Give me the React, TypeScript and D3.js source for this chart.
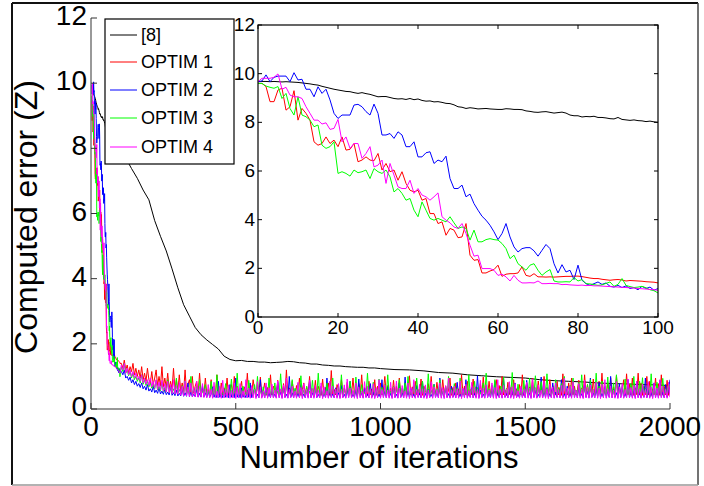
import React from "react";
import * as d3 from "d3";

// ---------- DATA ----------
const seriesNames = ["[8]", "OPTIM 1", "OPTIM 2", "OPTIM 3", "OPTIM 4"];
const seriesColors = ["#000000", "#ff0000", "#0000ff", "#00ff00", "#ff00ff"];

const mainXTicks = [0, 500, 1000, 1500, 2000];
const mainYTicks = [0, 2, 4, 6, 8, 10, 12];
const insetXTicks = [0, 20, 40, 60, 80, 100];
const insetYTicks = [0, 2, 4, 6, 8, 10, 12];

// iterations 0..100 (one value per iteration)
const ref8Early = [
  9.67, 9.68, 9.68, 9.67, 9.68, 9.67, 9.66, 9.67, 9.66, 9.65,
  9.64, 9.62, 9.6, 9.58, 9.55, 9.53, 9.48, 9.44, 9.4, 9.36,
  9.33, 9.3, 9.27, 9.26, 9.22, 9.19, 9.22, 9.18, 9.15, 9.1,
  9.05, 9.06, 9.06, 9.02, 8.98, 8.96, 8.97, 8.94, 8.98, 8.93,
  8.96, 8.9, 8.87, 8.88, 8.84, 8.85, 8.82, 8.78, 8.77, 8.72,
  8.64, 8.62, 8.57, 8.6, 8.58, 8.55, 8.56, 8.57, 8.55, 8.54,
  8.53, 8.53, 8.56, 8.55, 8.53, 8.53, 8.52, 8.47, 8.45, 8.42,
  8.41, 8.43, 8.44, 8.41, 8.38, 8.4, 8.42, 8.38, 8.3, 8.27,
  8.27, 8.22, 8.24, 8.23, 8.25, 8.2, 8.2, 8.18, 8.15, 8.14,
  8.2, 8.12, 8.1, 8.08, 8.1, 8.07, 8.06, 8.03, 8.05, 8.02,
  8.0,
];
const optim1Early = [
  9.6, 9.6, 9.47, 8.85, 8.85, 9.33, 9.4, 8.5, 8.64, 9.3,
  8.09, 8.57, 8.37, 8.09, 7.2, 7.06, 7.13, 7.4, 7.13, 7.27,
  7.0, 7.4, 6.86, 6.89, 7.13, 6.38, 6.45, 6.58, 6.45, 6.42,
  6.72, 6.04, 6.31, 5.97, 6.04, 5.62, 5.97, 5.49, 5.21, 5.14,
  5.21, 4.8, 4.87, 4.25, 4.25, 3.84, 3.91, 3.36, 3.64, 3.57,
  3.26, 3.29, 3.84, 2.54, 2.33, 2.36, 1.81, 1.81, 1.89, 1.95,
  2.13, 1.67, 1.76, 1.78, 1.78, 1.81, 2.06, 1.71, 1.67, 1.78,
  1.65, 1.65, 1.64, 1.65, 1.64, 1.65, 1.66, 1.67, 1.67, 1.68,
  1.68, 1.66, 1.63, 1.6, 1.58, 1.58, 1.55, 1.53, 1.51, 1.53,
  1.54, 1.52, 1.48, 1.5, 1.49, 1.48, 1.47, 1.45, 1.44, 1.43,
  1.4,
];
const optim2Early = [
  9.67, 9.7, 9.95, 9.67, 9.85, 9.9, 9.9, 9.9, 9.67, 10.04,
  9.74, 9.77, 9.36, 9.36, 9.05, 9.46, 9.19, 9.36, 8.92, 8.37,
  8.16, 8.3, 8.3, 8.3, 8.71, 8.74, 8.64, 8.44, 8.3, 8.75,
  8.37, 7.48, 7.48, 7.54, 7.34, 7.61, 7.48, 7.0, 7.0, 7.2,
  6.58, 6.58, 6.75, 6.79, 6.31, 6.45, 6.38, 6.61, 5.69, 5.28,
  5.28, 5.42, 4.94, 5.05, 4.66, 4.39, 4.14, 3.98, 3.77, 3.5,
  3.18, 3.43, 3.84, 3.29, 2.88, 2.67, 2.81, 2.85, 2.85, 2.72,
  2.5, 2.74, 2.98, 2.81, 2.19, 1.81, 2.15, 1.85, 1.92, 1.54,
  2.13, 1.51, 1.37, 1.3, 1.37, 1.44, 1.34, 1.4, 1.26, 1.23,
  1.3, 1.21, 1.28, 1.17, 1.21, 1.12, 1.26, 1.17, 1.23, 1.1,
  1.17,
];
const optim3Early = [
  9.6, 9.6, 9.49, 9.44, 9.4, 9.47, 8.98, 9.19, 8.57, 8.3,
  9.05, 8.3, 8.23, 8.09, 7.82, 7.89, 7.06, 6.93, 7.0, 7.2,
  5.9, 5.97, 5.9, 5.79, 6.04, 5.93, 5.97, 6.04, 5.69, 6.1,
  5.97, 5.9, 6.04, 5.76, 5.14, 5.28, 5.08, 4.8, 4.87, 4.39,
  4.12, 4.73, 4.39, 4.05, 3.98, 4.05, 3.98, 3.91, 4.12, 3.87,
  3.64, 3.7, 3.64, 3.16, 3.57, 3.09, 3.09, 3.18, 3.22, 3.18,
  3.16, 3.02, 2.81, 2.4, 2.54, 2.19, 2.06, 1.92, 2.13, 2.19,
  1.92, 1.71, 1.85, 1.95, 1.48, 1.44, 1.44, 1.45, 1.44, 1.62,
  1.48, 1.54, 1.37, 1.36, 1.33, 1.3, 1.32, 1.38, 1.44, 1.26,
  1.34, 1.58, 1.3, 1.25, 1.21, 1.23, 1.26, 1.2, 1.12, 1.08,
  0.99,
];
const optim4Early = [
  9.67, 9.81, 9.81, 9.81, 9.85, 9.99, 9.36, 9.44, 9.12, 9.05,
  9.05, 8.98, 8.64, 8.37, 8.09, 8.09, 7.93, 7.98, 7.71, 7.75,
  8.12, 7.2, 7.4, 6.93, 7.13, 7.13, 6.52, 6.72, 7.0, 6.17,
  6.24, 6.45, 5.49, 6.31, 5.83, 5.35, 5.28, 5.28, 5.62, 5.08,
  5.28, 5.01, 4.94, 4.8, 4.94, 5.1, 4.12, 3.98, 3.87, 3.7,
  3.64, 3.84, 3.43, 2.95, 2.5, 2.54, 1.99, 1.99, 1.99, 1.92,
  1.71, 1.76, 1.65, 1.48, 1.71, 1.51, 1.4, 1.4, 1.41, 1.4,
  1.48, 1.37, 1.37, 1.38, 1.37, 1.37, 1.33, 1.34, 1.32, 1.31,
  1.3, 1.31, 1.29, 1.3, 1.28, 1.28, 1.27, 1.26, 1.25, 1.24,
  1.23, 1.22, 1.21, 1.2, 1.19, 1.17, 1.16, 1.15, 1.13, 1.12,
  1.1,
];

// [8] after iteration 100
const ref8TailIter = [
  120, 140, 160, 180, 200, 220, 240, 260, 280, 300, 320, 340, 360, 380, 400,
  420, 440, 460, 480, 500, 520, 540, 560, 580, 600, 620, 640, 660, 680, 700,
  720, 740, 760, 780, 800, 820, 840, 860, 880, 900, 920, 940, 960, 980, 1000,
  1050, 1100, 1150, 1200, 1250, 1300, 1350, 1400, 1450, 1500, 1550, 1600,
  1650, 1700, 1750, 1800, 1850, 1900, 1950, 2000,
];
const ref8TailVal = [
  7.7, 7.38, 7.08, 6.72, 6.42, 5.78, 5.3, 4.85, 4.3, 3.72, 3.2, 2.85, 2.5, 2.28, 2.12,
  1.98, 1.84, 1.62, 1.52, 1.48, 1.49, 1.46, 1.46, 1.44, 1.44, 1.42, 1.43, 1.44, 1.46, 1.45,
  1.42, 1.41, 1.38, 1.38, 1.35, 1.34, 1.32, 1.32, 1.3, 1.29, 1.28, 1.28, 1.26, 1.26, 1.24,
  1.21, 1.2, 1.17, 1.12, 1.1, 1.05, 1.02, 0.99, 0.97, 0.95, 0.9, 0.87,
  0.85, 0.83, 0.8, 0.78, 0.77, 0.75, 0.74, 0.72,
];

// OPTIM series, iterations 105..2000 every 5
const optim1Tail = [
  1.4, 1.25, 1.5, 1.2, 1.35, 1.1, 1.3, 1.15, 1.4, 1.05,
  1.25, 1.0, 1.2, 0.95, 1.3, 0.9, 1.1, 0.85, 1.25, 0.9,
  0.8, 1.15, 0.75, 0.95, 1.2, 0.72, 1.0, 0.7, 1.3, 0.68,
  0.95, 0.65, 1.1, 0.62, 0.85, 0.6, 1.25, 0.58, 0.9, 0.55,
  1.05, 0.55, 0.8, 0.52, 1.2, 0.5, 0.75, 0.9, 0.5, 1.0,
  0.48, 0.7, 0.85, 0.48, 1.1, 0.46, 0.65, 0.46, 0.95, 0.45,
  0.6, 0.44, 0.9, 0.45, 0.7, 0.43, 1.05, 0.55, 0.44, 0.8,
  0.43, 0.65, 0.45, 0.95, 0.42, 0.6, 0.75, 0.44, 1.0, 0.43,
  0.7, 0.44, 0.58, 0.85, 0.42, 0.68, 0.45, 1.1, 0.43, 0.62,
  0.44, 0.9, 0.6, 0.42, 0.75, 0.44, 0.98, 0.43, 0.55, 0.8,
  0.42, 0.66, 0.44, 1.05, 0.43, 0.7, 0.58, 0.44, 0.88, 0.42,
  0.6, 0.45, 0.78, 0.43, 1.2, 0.44, 0.65, 0.42, 0.85, 0.56,
  0.43, 0.72, 0.44, 0.95, 0.42, 0.6, 0.8, 0.43, 0.68, 0.44,
  1.0, 0.42, 0.62, 0.44, 0.88, 0.43, 0.7, 0.55, 0.42, 0.92,
  0.44, 0.66, 0.43, 0.8, 0.42, 1.18, 0.44, 0.6, 0.43, 0.75,
  0.58, 0.42, 0.9, 0.44, 0.65, 0.43, 0.82, 0.42, 0.7, 0.44,
  0.95, 0.43, 0.6, 0.42, 0.78, 0.44, 1.05, 0.43, 0.66, 0.55,
  0.42, 0.85, 0.44, 0.62, 0.43, 0.9, 0.42, 0.7, 0.44, 0.8,
  0.43, 0.58, 1.0, 0.42, 0.72, 0.44, 0.64, 0.43, 0.88, 0.42,
  0.7, 0.44, 0.95, 0.43, 0.6, 0.42, 0.8, 0.55, 0.44, 1.02,
  0.43, 0.68, 0.42, 0.85, 0.44, 0.6, 0.43, 0.92, 0.42, 0.7,
  0.56, 0.44, 0.78, 0.43, 1.0, 0.42, 0.64, 0.44, 0.82, 0.43,
  0.6, 0.42, 0.9, 0.44, 0.7, 0.43, 0.58, 0.95, 0.42, 0.66,
  0.44, 0.8, 0.43, 0.62, 0.42, 1.05, 0.44, 0.7, 0.43, 0.85,
  0.42, 0.6, 0.44, 0.92, 0.43, 0.68, 0.55, 0.42, 0.78, 0.44,
  0.98, 0.43, 0.64, 0.42, 0.85, 0.44, 0.7, 0.43, 0.6, 0.9,
  0.42, 0.72, 0.44, 1.0, 0.43, 0.58, 0.42, 0.82, 0.44, 0.66,
  0.43, 0.9, 0.42, 0.62, 0.44, 0.75, 0.43, 1.05, 0.42, 0.6,
  0.8, 0.44, 0.68, 0.43, 0.95, 0.42, 0.58, 0.44, 0.86, 0.43,
  0.7, 0.42, 1.0, 0.44, 0.62, 0.43, 0.9, 0.42, 0.72, 0.55,
  0.44, 0.85, 0.43, 0.66, 0.42, 1.08, 0.44, 0.6, 0.43, 0.8,
  0.42, 0.95, 0.44, 0.7, 0.43, 0.58, 0.88, 0.42, 0.65, 0.44,
  1.05, 0.43, 0.75, 0.42, 0.62, 0.44, 0.92, 0.43, 0.7, 0.42,
  0.85, 0.44, 1.1, 0.43, 0.6, 0.42, 0.8, 0.44, 0.95, 0.43,
  0.68, 0.42, 1.02, 0.44, 0.72, 0.43, 0.58, 0.9, 0.42, 1.08,
  0.44, 0.75, 0.43, 0.95, 0.42, 0.65, 0.44, 1.1, 0.43, 0.8,
  0.42, 0.7, 0.44, 1.0, 0.43, 0.85, 0.42, 0.62, 0.44, 0.95,
  0.43, 0.78, 0.42, 1.05, 0.44, 0.7, 0.43, 0.88, 0.42, 0.72,
];
const optim2Tail = [
  1.15, 1.05, 1.2, 0.95, 1.0, 0.88, 0.98, 0.8, 0.9, 0.75,
  0.85, 0.7, 0.78, 0.66, 0.8, 0.62, 0.7, 0.58, 0.75, 0.55,
  0.62, 0.52, 0.7, 0.5, 0.58, 0.48, 0.66, 0.46, 0.55, 0.45,
  0.6, 0.44, 0.52, 0.43, 0.7, 0.42, 0.5, 0.41, 0.58, 0.4,
  0.48, 0.4, 0.62, 0.39, 0.5, 0.39, 0.8, 0.38, 0.52, 0.38,
  0.45, 0.38, 0.6, 0.37, 0.48, 0.37, 0.72, 0.37, 0.5, 0.36,
  0.55, 0.36, 0.45, 0.68, 0.36, 0.5, 0.35, 0.85, 0.36, 0.48,
  0.35, 0.6, 0.36, 0.45, 0.35, 0.75, 0.36, 0.52, 0.35, 0.95,
  0.36, 0.5, 0.35, 0.65, 0.36, 0.46, 0.35, 0.58, 0.36, 0.8,
  0.35, 0.48, 0.62, 0.36, 0.45, 0.35, 0.9, 0.36, 0.55, 0.35,
  0.7, 0.36, 0.48, 0.35, 0.6, 0.36, 0.46, 0.35, 0.82, 0.36,
  0.52, 0.35, 0.66, 0.36, 0.45, 0.35, 1.0, 0.36, 0.5, 0.35,
  0.6, 0.36, 0.48, 0.35, 0.75, 0.36, 0.46, 0.35, 0.58, 0.36,
  0.88, 0.35, 0.5, 0.36, 0.62, 0.35, 0.45, 0.36, 0.7, 0.35,
  0.48, 0.36, 0.95, 0.35, 0.55, 0.36, 0.46, 0.35, 0.65, 0.36,
  0.5, 0.35, 0.72, 0.36, 0.45, 0.35, 0.6, 0.36, 0.85, 0.35,
  0.46, 0.36, 0.58, 0.35, 0.92, 0.36, 0.5, 0.35, 0.64, 0.36,
  0.45, 0.35, 0.78, 0.36, 0.52, 0.35, 0.6, 0.36, 0.46, 0.35,
  0.9, 0.36, 0.55, 0.35, 0.68, 0.36, 0.48, 0.35, 0.62, 0.36,
  0.45, 0.35, 0.8, 0.36, 0.5, 0.35, 0.98, 0.36, 0.56, 0.35,
  0.62, 0.36, 0.46, 0.35, 0.72, 0.36, 0.5, 0.35, 0.85, 0.36,
  0.48, 0.35, 0.6, 0.36, 0.45, 0.35, 0.76, 0.36, 0.52, 0.35,
  0.95, 0.36, 0.55, 0.35, 0.64, 0.36, 0.47, 0.35, 0.7, 0.36,
  0.5, 0.35, 0.82, 0.36, 0.46, 0.35, 0.6, 0.36, 0.9, 0.35,
  0.55, 0.36, 0.66, 0.35, 0.48, 0.36, 1.02, 0.35, 0.58, 0.36,
  0.46, 0.35, 0.74, 0.36, 0.52, 0.35, 0.62, 0.36, 0.85, 0.35,
  0.5, 0.36, 0.6, 0.35, 0.95, 0.36, 0.48, 0.35, 0.7, 0.36,
  0.55, 0.35, 0.8, 0.36, 0.46, 0.35, 0.64, 0.36, 0.52, 0.35,
  0.88, 0.36, 0.5, 0.35, 0.72, 0.36, 0.58, 0.35, 0.45, 0.36,
  0.98, 0.35, 0.55, 0.36, 0.66, 0.35, 0.48, 0.36, 0.8, 0.35,
  0.52, 0.36, 0.62, 0.35, 0.9, 0.36, 0.46, 0.35, 0.7, 0.36,
  0.5, 0.35, 0.85, 0.36, 0.58, 0.35, 0.64, 0.36, 0.47, 0.35,
  0.75, 0.36, 0.55, 0.35, 0.95, 0.36, 0.5, 0.35, 0.62, 0.36,
  0.82, 0.35, 0.48, 0.36, 0.7, 0.35, 0.56, 0.36, 1.0, 0.35,
  0.6, 0.36, 0.5, 0.35, 0.78, 0.36, 0.66, 0.35, 0.48, 0.36,
  0.9, 0.35, 0.55, 0.36, 0.62, 0.35, 0.85, 0.36, 0.5, 0.35,
  0.7, 0.36, 0.95, 0.35, 0.58, 0.36, 0.5, 0.35, 0.8, 0.36,
  0.62, 0.35, 0.88, 0.36, 0.52, 0.35, 0.75, 0.36, 0.6, 0.9,
];
const optim3Tail = [
  1.3, 1.15, 1.4, 1.1, 1.2, 1.02, 1.15, 0.95, 1.1, 0.9,
  1.0, 0.85, 0.95, 0.8, 1.05, 0.76, 0.9, 0.72, 0.85, 0.68,
  0.8, 0.64, 0.75, 0.62, 0.88, 0.58, 0.7, 0.56, 0.82, 0.54,
  0.66, 0.52, 0.9, 0.5, 0.7, 0.5, 0.62, 0.48, 0.95, 0.48,
  0.6, 0.47, 0.72, 0.46, 0.85, 0.46, 0.58, 0.45, 1.0, 0.45,
  0.62, 0.44, 0.7, 0.44, 0.9, 0.44, 0.56, 0.43, 0.75, 0.43,
  0.55, 0.42, 0.85, 0.42, 0.6, 0.41, 1.05, 0.42, 0.66, 0.41,
  0.5, 0.42, 0.78, 0.41, 0.6, 0.42, 0.92, 0.41, 0.55, 0.42,
  1.1, 0.41, 0.62, 0.42, 0.7, 0.41, 0.52, 0.42, 0.88, 0.41,
  0.6, 0.42, 0.75, 0.41, 1.0, 0.42, 0.56, 0.41, 0.68, 0.42,
  0.5, 0.41, 0.95, 0.42, 0.62, 0.41, 0.8, 0.42, 0.55, 0.41,
  1.08, 0.42, 0.6, 0.41, 0.72, 0.42, 0.52, 0.41, 0.9, 0.42,
  0.64, 0.41, 0.78, 0.42, 1.02, 0.41, 0.58, 0.42, 0.7, 0.41,
  0.55, 0.42, 0.88, 0.41, 0.62, 0.42, 1.1, 0.41, 0.66, 0.42,
  0.5, 0.41, 0.8, 0.42, 0.6, 0.41, 0.95, 0.42, 0.56, 0.41,
  0.72, 0.42, 1.05, 0.41, 0.6, 0.42, 0.68, 0.41, 0.85, 0.42,
  0.55, 0.41, 0.98, 0.42, 0.64, 0.41, 0.75, 0.42, 0.52, 0.41,
  1.1, 0.42, 0.62, 0.41, 0.82, 0.42, 0.58, 0.41, 0.92, 0.42,
  0.66, 0.41, 0.75, 0.42, 1.05, 0.41, 0.55, 0.42, 0.7, 0.41,
  0.6, 0.42, 0.9, 0.41, 0.64, 0.42, 0.8, 0.41, 1.0, 0.42,
  0.56, 0.41, 0.72, 0.42, 0.95, 0.41, 0.6, 0.42, 0.85, 0.41,
  0.66, 0.42, 1.08, 0.41, 0.58, 0.42, 0.75, 0.41, 0.62, 0.42,
  0.9, 0.41, 0.55, 0.42, 0.7, 0.41, 1.0, 0.42, 0.6, 0.41,
  0.78, 0.42, 0.64, 0.41, 0.95, 0.42, 0.56, 0.41, 0.72, 0.42,
  1.05, 0.41, 0.6, 0.42, 0.85, 0.41, 0.66, 0.42, 0.52, 0.41,
  0.8, 0.42, 1.1, 0.41, 0.62, 0.42, 0.74, 0.41, 0.9, 0.42,
  0.58, 0.41, 0.7, 0.42, 0.98, 0.41, 0.64, 0.42, 0.8, 0.41,
  1.12, 0.42, 0.6, 0.41, 0.76, 0.42, 0.55, 0.41, 0.88, 0.42,
  0.66, 0.41, 0.95, 0.42, 0.7, 0.41, 1.02, 0.42, 0.6, 0.41,
  0.84, 0.42, 0.62, 0.41, 1.08, 0.42, 0.7, 0.41, 0.56, 0.42,
  0.9, 0.41, 0.66, 0.42, 0.78, 0.41, 1.0, 0.42, 0.6, 0.41,
  0.72, 0.42, 0.95, 0.41, 0.58, 0.42, 0.82, 0.41, 1.05, 0.42,
  0.64, 0.41, 0.75, 0.42, 0.9, 0.41, 0.6, 0.42, 1.1, 0.41,
  0.7, 0.42, 0.86, 0.41, 0.62, 0.42, 0.98, 0.41, 0.66, 0.42,
  0.8, 0.41, 1.05, 0.42, 0.6, 0.41, 0.72, 0.42, 0.92, 0.41,
  0.62, 0.42, 0.78, 0.41, 1.0, 0.42, 0.68, 0.41, 0.85, 0.42,
  0.96, 0.41, 0.64, 0.42, 0.74, 0.41, 1.08, 0.42, 0.6, 0.41,
  0.82, 0.42, 0.7, 0.41, 0.94, 0.42, 0.62, 0.41, 0.78, 0.68,
];
const optim4Tail = [
  1.35, 1.2, 1.4, 1.1, 1.25, 1.05, 1.2, 1.0, 1.15, 0.95,
  1.1, 0.9, 1.0, 0.85, 1.05, 0.8, 0.95, 0.76, 0.9, 0.72,
  0.95, 0.68, 0.85, 0.64, 0.9, 0.6, 0.82, 0.58, 0.88, 0.55,
  0.78, 0.52, 0.85, 0.5, 0.75, 0.48, 0.9, 0.46, 0.72, 0.45,
  0.82, 0.42, 0.7, 0.4, 0.86, 0.4, 0.68, 0.38, 0.8, 0.38,
  0.66, 0.37, 0.85, 0.36, 0.7, 0.36, 0.78, 0.35, 0.62, 0.35,
  0.75, 0.34, 0.6, 0.33, 0.82, 0.35, 0.55, 0.34, 0.7, 0.33,
  0.88, 0.34, 0.62, 0.35, 0.74, 0.33, 0.58, 0.34, 0.8, 0.32,
  0.66, 0.34, 0.78, 0.33, 0.56, 0.35, 0.9, 0.34, 0.64, 0.33,
  0.72, 0.34, 0.6, 0.32, 0.84, 0.35, 0.68, 0.33, 0.56, 0.34,
  0.8, 0.33, 0.65, 0.35, 0.76, 0.34, 0.58, 0.33, 0.86, 0.34,
  0.62, 0.32, 0.74, 0.34, 0.95, 0.33, 0.6, 0.35, 0.7, 0.34,
  0.56, 0.33, 0.82, 0.34, 0.66, 0.32, 0.78, 0.35, 0.6, 0.33,
  0.88, 0.34, 0.64, 0.33, 0.72, 0.35, 0.58, 0.34, 0.8, 0.32,
  0.68, 0.34, 0.56, 0.33, 0.86, 0.35, 0.7, 0.34, 0.62, 0.33,
  0.78, 0.32, 0.6, 0.34, 0.74, 0.33, 0.92, 0.35, 0.64, 0.34,
  0.58, 0.33, 0.8, 0.32, 0.68, 0.34, 0.56, 0.33, 0.84, 0.35,
  0.7, 0.34, 0.62, 0.33, 0.78, 0.32, 0.66, 0.34, 0.9, 0.33,
  0.6, 0.35, 0.74, 0.34, 0.58, 0.33, 0.82, 0.32, 0.68, 0.34,
  0.86, 0.33, 0.64, 0.35, 0.72, 0.34, 0.56, 0.33, 0.8, 0.32,
  0.66, 0.34, 0.9, 0.33, 0.6, 0.35, 0.76, 0.34, 0.62, 0.33,
  0.74, 0.32, 0.58, 0.34, 0.84, 0.33, 0.68, 0.35, 0.6, 0.34,
  0.8, 0.33, 0.66, 0.32, 0.72, 0.34, 0.95, 0.33, 0.58, 0.35,
  0.7, 0.34, 0.62, 0.33, 0.86, 0.32, 0.64, 0.34, 0.76, 0.33,
  0.56, 0.35, 0.82, 0.34, 0.68, 0.33, 0.6, 0.32, 0.88, 0.34,
  0.64, 0.33, 0.74, 0.35, 0.58, 0.34, 0.8, 0.33, 0.66, 0.32,
  0.9, 0.34, 0.6, 0.33, 0.72, 0.35, 0.62, 0.34, 0.84, 0.33,
  0.68, 0.32, 0.78, 0.34, 0.56, 0.33, 0.7, 0.35, 0.6, 0.34,
  0.82, 0.33, 0.64, 0.32, 0.92, 0.34, 0.66, 0.33, 0.74, 0.35,
  0.58, 0.34, 0.86, 0.33, 0.62, 0.32, 0.76, 0.34, 0.68, 0.33,
  0.8, 0.35, 0.6, 0.34, 0.72, 0.33, 0.94, 0.32, 0.64, 0.34,
  0.7, 0.33, 0.84, 0.35, 0.58, 0.34, 0.78, 0.33, 0.62, 0.32,
  0.88, 0.34, 0.66, 0.33, 0.74, 0.35, 0.6, 0.34, 0.82, 0.33,
  0.64, 0.32, 0.76, 0.34, 0.9, 0.33, 0.62, 0.35, 0.7, 0.34,
  0.58, 0.33, 0.84, 0.32, 0.68, 0.34, 0.78, 0.33, 0.6, 0.35,
  0.92, 0.34, 0.66, 0.33, 0.72, 0.32, 0.86, 0.34, 0.62, 0.33,
  0.76, 0.35, 0.6, 0.34, 0.84, 0.33, 0.68, 0.32, 0.8, 0.34,
  0.64, 0.33, 0.9, 0.35, 0.7, 0.34, 0.6, 0.33, 0.82, 0.36,
];

type Pt = [number, number];
const earlyIters = d3.range(0, 101);
const tailIters = d3.range(105, 2001, 5);

const toPts = (xs: number[], ys: number[]): Pt[] => xs.map((v, i) => [v, ys[i]] as Pt);

const earlySeries = [ref8Early, optim1Early, optim2Early, optim3Early, optim4Early];
const mainSeries: Pt[][] = [
  [...toPts(earlyIters, ref8Early), ...toPts(ref8TailIter, ref8TailVal)],
  [...toPts(earlyIters, optim1Early), ...toPts(tailIters, optim1Tail)],
  [...toPts(earlyIters, optim2Early), ...toPts(tailIters, optim2Tail)],
  [...toPts(earlyIters, optim3Early), ...toPts(tailIters, optim3Tail)],
  [...toPts(earlyIters, optim4Early), ...toPts(tailIters, optim4Tail)],
];

const FONT = "'Liberation Sans', Arial, Helvetica, sans-serif";

export default function App() {
  const W = 704, H = 486;
  const mx = d3.scaleLinear().domain([0, 2000]).range([91, 670]);
  const my = d3.scaleLinear().domain([0, 12]).range([409, 18]);
  const ix = d3.scaleLinear().domain([0, 100]).range([258, 658]);
  const iy = d3.scaleLinear().domain([0, 12]).range([317, 25]);

  const mLine = d3.line<Pt>().x((d) => mx(d[0])).y((d) => my(d[1]));
  const iLine = d3.line<Pt>().x((d) => ix(d[0])).y((d) => iy(d[1]));

  const axisGray = "#777";
  const legendTop = 19, legendLeft = 105, legendRight = 234, legendBottom = 164;
  const rowY = [35, 62, 90, 118, 147];

  return (
    <svg width={W} height={H} style={{ position: "absolute", left: 0, top: 0, background: "#fff" }} fontFamily={FONT}>
      <rect x={0} y={0} width={W} height={H} fill="#fff" />
      <defs>
        <clipPath id="mainClip">
          <rect x={mx(0)} y={my(12)} width={mx(2000) - mx(0)} height={my(0) - my(12)} />
        </clipPath>
        <clipPath id="insetClip">
          <rect x={ix(0)} y={iy(12)} width={ix(100) - ix(0)} height={iy(0) - iy(12)} />
        </clipPath>
      </defs>

      {/* outer frame */}
      <line x1={12} y1={3} x2={698} y2={3} stroke="#111" strokeWidth={2} />
      <line x1={12} y1={3} x2={12} y2={485} stroke="#111" strokeWidth={2} />
      <line x1={698} y1={3} x2={698} y2={485} stroke="#444" strokeWidth={1.5} />
      <line x1={12} y1={485} x2={698} y2={485} stroke="#999" strokeWidth={1.5} />

      {/* main data */}
      <g clipPath="url(#mainClip)">
        {mainSeries.map((s, i) => (
          <path key={i} d={mLine(s) || ""} fill="none" stroke={seriesColors[i]} strokeWidth={1} strokeLinejoin="round" />
        ))}
      </g>

      {/* main axes */}
      <line x1={mx(0)} y1={my(0)} x2={mx(2000)} y2={my(0)} stroke={axisGray} strokeWidth={1.5} />
      <line x1={mx(0)} y1={my(0)} x2={mx(0)} y2={my(12)} stroke={axisGray} strokeWidth={1.5} />
      {mainXTicks.map((t) => (
        <g key={"mx" + t}>
          <line x1={mx(t)} x2={mx(t)} y1={my(0)} y2={my(0) - 6} stroke="#333" strokeWidth={1} />
          <text x={mx(t)} y={436} textAnchor="middle" fontSize={28} fill="#000">{t}</text>
        </g>
      ))}
      {mainYTicks.map((t) => (
        <g key={"my" + t}>
          <line x1={mx(0)} x2={mx(0) + 6} y1={my(t)} y2={my(t)} stroke="#333" strokeWidth={1} />
          <text x={87} y={my(t) - 3} dy="0.36em" textAnchor="end" fontSize={28} fill="#000">{t}</text>
        </g>
      ))}
      <text x={379} y={468} textAnchor="middle" fontSize={31} fill="#000">Number of iterations</text>
      <text transform={`translate(37,217) rotate(-90)`} textAnchor="middle" fontSize={32} fill="#000">Computed error (Z)</text>

      {/* inset */}
      <rect x={ix(0)} y={iy(12)} width={ix(100) - ix(0)} height={iy(0) - iy(12)} fill="#fff" />
      <g clipPath="url(#insetClip)">
        {earlySeries.map((s, i) => (
          <path key={i} d={iLine(toPts(earlyIters, s)) || ""} fill="none" stroke={seriesColors[i]} strokeWidth={1} />
        ))}
      </g>
      <rect x={ix(0)} y={iy(12)} width={ix(100) - ix(0)} height={iy(0) - iy(12)} fill="none" stroke="#000" strokeWidth={1.2} />
      {insetXTicks.map((t) => (
        <g key={"ix" + t}>
          <line x1={ix(t)} x2={ix(t)} y1={iy(0)} y2={iy(0) - 4} stroke="#000" />
          <line x1={ix(t)} x2={ix(t)} y1={iy(12)} y2={iy(12) + 4} stroke="#000" />
          <text x={ix(t)} y={334} textAnchor="middle" fontSize={19} fill="#000">{t}</text>
        </g>
      ))}
      {insetYTicks.map((t) => (
        <g key={"iy" + t}>
          <line x1={ix(0)} x2={ix(0) + 4} y1={iy(t)} y2={iy(t)} stroke="#000" />
          <line x1={ix(100)} x2={ix(100) - 4} y1={iy(t)} y2={iy(t)} stroke="#000" />
          <text x={255} y={iy(t) - 1} dy="0.36em" textAnchor="end" fontSize={19} fill="#000">{t}</text>
        </g>
      ))}

      {/* legend */}
      <rect x={legendLeft} y={legendTop} width={legendRight - legendLeft} height={legendBottom - legendTop} fill="#fff" stroke="#000" strokeWidth={1.2} />
      {seriesNames.map((n, i) => (
        <g key={n}>
          <line x1={110} x2={137} y1={rowY[i]} y2={rowY[i]} stroke={seriesColors[i]} strokeWidth={1} />
          <text x={141} y={rowY[i]} dy="0.36em" fontSize={18} fill="#000">{n}</text>
        </g>
      ))}
    </svg>
  );
}
